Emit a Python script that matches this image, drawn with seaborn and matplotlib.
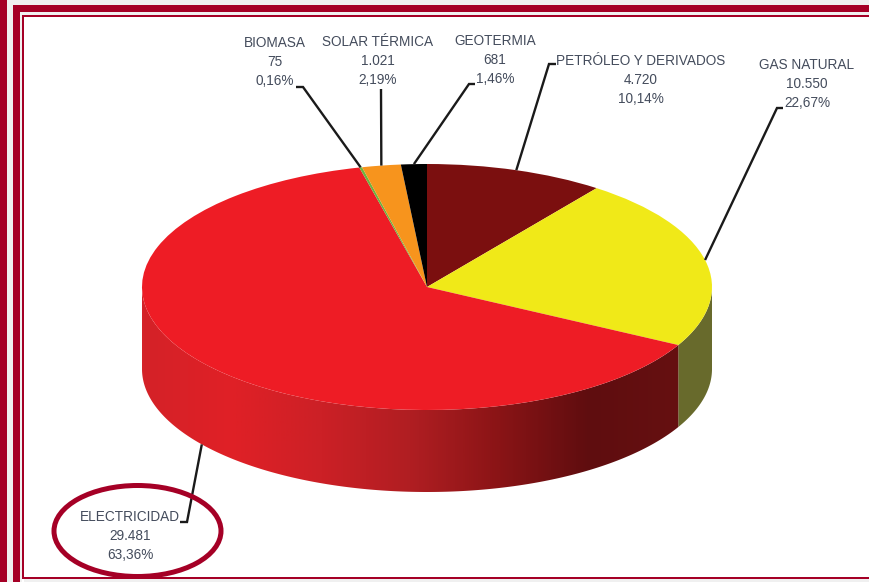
# Consumo por fuente: torta con efecto 3D
import numpy as np
import seaborn as sns
import matplotlib.pyplot as plt
from matplotlib.patches import Ellipse, Polygon, Rectangle

W, H = 869, 582

# Datos
fuentes = ["PETRÓLEO Y DERIVADOS", "GAS NATURAL", "ELECTRICIDAD", "BIOMASA", "SOLAR TÉRMICA", "GEOTERMIA"]
valores = [4720, 10550, 29481, 75, 1021, 681]
valores_txt = ["4.720", "10.550", "29.481", "75", "1.021", "681"]
porcentajes_txt = ["10,14%", "22,67%", "63,36%", "0,16%", "2,19%", "1,46%"]

colores = ["#7b0f0f", "#f0e918", "#ee1c25", "#6db33f", "#f7941d", "#000000"]
rojo_lateral = ["#d42228", "#e02026", "#cc2026", "#b01e22", "#8a1416", "#5f0d0f", "#661011"]
color_gas_lateral = "#686a2c"
granate = "#a50026"
gris_fondo = "#f0f0f0"

# Geometria en pixeles de la imagen
cx, cy, rx, ry, alto = 427, 287, 285, 123, 82

# Centro del texto (linea del medio) y tramo corto de la guia (inicio, codo) para cada fuente
pos_texto = [(641, 80), (807, 84), (130, 536), (275, 62), (378, 61), (495, 60)]
sep_lineas = 19.3
guias = [((556, 64), (549, 64)), ((783, 108), (777, 108)), ((180, 522), (187, 522)),
         ((296, 87), (303, 87)), ((381, 89), (381, 89)), ((475, 84), (469, 84))]

sns.set_style("white")
plt.rcParams["font.family"] = ["Liberation Sans", "DejaVu Sans"]


def a_datos(px, py):
    return (px - cx) / rx, (cy - py) / ry


fig = plt.figure(figsize=(W / 100, H / 100), dpi=100, facecolor="white")
ax = fig.add_axes([0, 0, 1, 1])

# Cara superior
ax.pie(valores, colors=colores, startangle=90, counterclock=False, radius=1,
       center=(0, 0), wedgeprops={"linewidth": 0, "zorder": 3})
ax.set_aspect("auto")

# Angulos de cada porcion (desde arriba, sentido horario)
acum = np.cumsum([0] + valores) / sum(valores) * 2 * np.pi
medios = (acum[:-1] + acum[1:]) / 2
prof = alto / ry


def lateral(a1, a2):
    t = np.linspace(a1, a2, 200)
    x, y = np.sin(t), np.cos(t)
    return np.vstack([np.column_stack([x, y]), np.column_stack([x[::-1], y[::-1] - prof])])


# Lateral: solo la parte visible, del borde derecho al izquierdo
ax.add_patch(Polygon(lateral(np.pi / 2, acum[2]), closed=True, facecolor=color_gas_lateral,
                     edgecolor="none", zorder=2))
cmap_rojo = sns.blend_palette(rojo_lateral, as_cmap=True)
x_ini = np.sin(np.pi * 1.5)
x_fin = np.sin(acum[2])
rampa = np.linspace(0, 1, 512).reshape(1, -1)
img = ax.imshow(rampa, cmap=cmap_rojo, aspect="auto", extent=(x_ini, x_fin, -2, 1), zorder=2)
img.set_clip_path(Polygon(lateral(acum[2], np.pi * 1.5), closed=True, transform=ax.transData))

# Guias desde el punto medio de cada porcion
for i, (a, b) in enumerate(guias):
    x_f, y_f = np.sin(medios[i]), np.cos(medios[i])
    if fuentes[i] == "ELECTRICIDAD":
        y_f -= prof
    xa, ya = a_datos(*a)
    xb, yb = a_datos(*b)
    ax.plot([xa, xb, x_f], [ya, yb, y_f], color="#1a1a1a", lw=1.7, zorder=4,
            solid_joinstyle="miter", solid_capstyle="butt")

# Etiquetas, una linea por vez
for i, f in enumerate(fuentes):
    px, py = pos_texto[i]
    for j, linea in enumerate([f, valores_txt[i], porcentajes_txt[i]]):
        tx, ty = a_datos(px, py + (j - 1) * sep_lineas)
        ax.text(tx, ty, linea, ha="center", va="center", fontsize=9.8, color="#444c5c", zorder=5)

# Ovalo que resalta la electricidad
ex, ey = a_datos(137.5, 531)
ax.add_patch(Ellipse((ex, ey), 167 / rx, 91 / ry, fill=False, edgecolor=granate, lw=3.6, zorder=6))

ax.set_xlim(-cx / rx, (W - cx) / rx)
ax.set_ylim((cy - H) / ry, cy / ry)
ax.axis("off")


# Marco
def banda(x0, y0, x1, y1, color):
    fig.add_artist(Rectangle((x0 / W, 1 - y1 / H), (x1 - x0) / W, (y1 - y0) / H, transform=fig.transFigure,
                             facecolor=color, edgecolor="none", zorder=10))


banda(0, 0, W, 5, gris_fondo)
banda(0, 0, 7, H, granate)
banda(7, 0, 13, H, gris_fondo)
banda(13, 5, 20, H, granate)
banda(13, 5, W, 12, granate)
banda(20, 12, W, 15, gris_fondo)
banda(20, 12, 22, H, gris_fondo)
banda(22, 15, 24, 578, granate)
banda(22, 15, W, 17, granate)
banda(22, 577, W, 579, granate)
banda(24, 579, W, H, gris_fondo)

fig.savefig("out.png", dpi=100)
